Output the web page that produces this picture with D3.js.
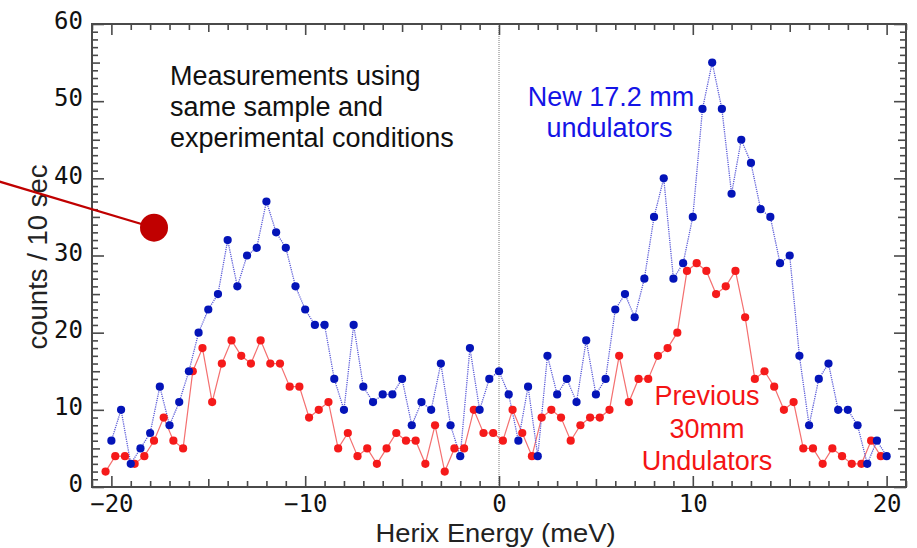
<!DOCTYPE html>
<html><head><meta charset="utf-8">
<script src="https://cdn.jsdelivr.net/npm/d3@7"></script>
<style>body{margin:0;background:#fff;overflow:hidden}</style>
</head><body>
<svg id="c" width="917" height="548"></svg>
<script>
// ---- data ----
const energyGrid = d3.range(-40, 41).map(i => i / 2);   // meV, 0.5 meV steps
const previousShift = -0.3;                               // previous-scan energy offset (meV)
const newUndulatorCounts = [
  6,10,3,5,7,13,8,11,15,20,23,25,32,26,30,31,37,33,31,26,
  23,21,21,14,10,21,13,11,12,12,14,8,11,10,16,8,4,18,10,14,
  15,12,6,13,4,17,12,14,11,19,12,14,23,25,22,27,35,40,27,29,
  35,49,55,49,38,45,42,36,35,29,30,17,8,14,16,10,10,8,3,6,4
];
const previousUndulatorCounts = [
  2,4,4,3,4,6,9,6,5,15,18,11,16,19,17,16,19,16,16,13,13,
  9,10,11,5,7,4,5,3,5,7,6,6,3,8,2,5,5,10,7,7,
  6,10,7,4,9,10,9,6,8,9,9,10,17,11,14,14,17,18,20,28,
  29,28,25,26,28,22,14,15,13,10,11,5,5,3,5,4,3,3,6,4
];
const xTickLabels = [-20, -10, 0, 10, 20];
const yTickLabels = [0, 10, 20, 30, 40, 50, 60];
const xDomain = [-21, 21];
const yDomain = [0, 60];
const noteLines = ["Measurements using", "same sample and", "experimental conditions"];
const newLabel = ["New 17.2 mm", "undulators"];
const prevLabel = ["Previous", "30mm", "Undulators"];
const markerPoint = [-17.8, 33.6];
const markerLineStart = [-25.8, 39.6];

// ---- layout ----
const svg = d3.select("#c");
const L = 92, R = 906, T = 24, B = 487;
const x = d3.scaleLinear().domain(xDomain).range([L, R]);
const y = d3.scaleLinear().domain(yDomain).range([B, T]);
const frameColor = "#4a4a4a";
const monoFont = "'DejaVu Sans Mono', monospace";
const sansFont = "'Liberation Sans', Arial, sans-serif";

const newData = energyGrid.map((e, i) => ({e, v: newUndulatorCounts[i]}));
const prevData = energyGrid.map((e, i) => ({e: e + previousShift, v: previousUndulatorCounts[i]}));

// zero line
svg.append("line").attr("x1", x(0)).attr("x2", x(0)).attr("y1", T).attr("y2", B)
  .attr("stroke", "#7a7a7a").attr("stroke-width", 1).attr("stroke-dasharray", "1,1");

// ticks (inward) on all sides
const xMinor = d3.range(-21, 22).filter(v => v % 5 !== 0);
const xMid = [-15, -5, 5, 15];
const yMinor = d3.range(0, 61).filter(v => v % 5 !== 0);
const yMid = [5, 15, 25, 35, 45, 55];
function styleAxis(g) {
  g.select(".domain").remove();
  g.selectAll(".tick line").attr("stroke", frameColor).attr("stroke-width", 1.6);
}
function tickSet(vals, len) {
  svg.append("g").attr("transform", `translate(0,${B})`)
    .call(d3.axisBottom(x).tickValues(vals).tickSize(-len).tickFormat("")).call(styleAxis);
  svg.append("g").attr("transform", `translate(0,${T})`)
    .call(d3.axisTop(x).tickValues(vals).tickSize(-len).tickFormat("")).call(styleAxis);
}
function tickSetY(vals, len) {
  svg.append("g").attr("transform", `translate(${L},0)`)
    .call(d3.axisLeft(y).tickValues(vals).tickSize(-len).tickFormat("")).call(styleAxis);
  svg.append("g").attr("transform", `translate(${R},0)`)
    .call(d3.axisRight(y).tickValues(vals).tickSize(-len).tickFormat("")).call(styleAxis);
}
tickSet(xMinor, 6); tickSet(xMid, 8); tickSet(xTickLabels, 11);
tickSetY(yMinor, 6); tickSetY(yMid, 8); tickSetY(yTickLabels, 12);

// tick labels
const xl = svg.append("g").attr("transform", `translate(0,${B})`)
  .call(d3.axisBottom(x).tickValues(xTickLabels).tickSize(0).tickPadding(8));
xl.select(".domain").remove();
xl.selectAll("text").attr("font-family", monoFont).attr("font-size", 24).attr("fill", "#111");
const yl = svg.append("g").attr("transform", `translate(${L},0)`)
  .call(d3.axisLeft(y).tickValues(yTickLabels).tickSize(0).tickPadding(9));
yl.select(".domain").remove();
yl.selectAll("text").attr("font-family", monoFont).attr("font-size", 24).attr("fill", "#111")
  .attr("dy", "0.2em");

// frame
svg.append("rect").attr("x", L).attr("y", T).attr("width", R - L).attr("height", B - T)
  .attr("fill", "none").attr("stroke", frameColor).attr("stroke-width", 2);

// series lines
const line = d3.line().x(d => x(d.e)).y(d => y(d.v));
svg.append("path").datum(prevData).attr("d", line).attr("fill", "none")
  .attr("stroke", "#f47070").attr("stroke-width", 1.2);
svg.append("path").datum(newData).attr("d", line).attr("fill", "none")
  .attr("stroke", "#5a5ad8").attr("stroke-width", 1.3).attr("stroke-dasharray", "1.2,1");

// points
svg.append("g").selectAll("circle").data(prevData).join("circle")
  .attr("cx", d => x(d.e)).attr("cy", d => y(d.v)).attr("r", 4.1).attr("fill", "#f51a1a");
svg.append("g").selectAll("circle").data(newData).join("circle")
  .attr("cx", d => x(d.e)).attr("cy", d => y(d.v)).attr("r", 4.1).attr("fill", "#0414b8");

// axis titles
svg.append("text").attr("x", 495.5).attr("y", 542).attr("text-anchor", "middle")
  .attr("font-family", sansFont).attr("font-size", 26).attr("fill", "#222")
  .attr("textLength", 240).attr("lengthAdjust", "spacingAndGlyphs")
  .text("Herix Energy  (meV)");
svg.append("text").attr("transform", `translate(47,257) rotate(-90)`).attr("text-anchor", "middle")
  .attr("font-family", sansFont).attr("font-size", 27.5).attr("fill", "#222")
  .text("counts / 10 sec");

// annotations
svg.append("g").selectAll("text").data(noteLines).join("text")
  .attr("x", 170).attr("y", (d, i) => 85 + i * 31)
  .attr("font-family", sansFont).attr("font-size", 27).attr("fill", "#111").text(d => d);
svg.append("g").selectAll("text").data(newLabel).join("text")
  .attr("x", (d, i) => i === 0 ? 611 : 609.5).attr("y", (d, i) => 106 + i * 31).attr("text-anchor", "middle")
  .attr("font-family", sansFont).attr("font-size", 27).attr("fill", "#1414e6").text(d => d);
svg.append("g").selectAll("text").data(prevLabel).join("text")
  .attr("x", 707).attr("y", (d, i) => 405 + i * 32.5).attr("text-anchor", "middle")
  .attr("font-family", sansFont).attr("font-size", 27).attr("fill", "#f41414").text(d => d);

// pointer marker
svg.append("line").attr("x1", x(markerLineStart[0])).attr("y1", y(markerLineStart[1]))
  .attr("x2", x(markerPoint[0])).attr("y2", y(markerPoint[1]))
  .attr("stroke", "#c00000").attr("stroke-width", 2.2);
svg.append("circle").attr("cx", x(markerPoint[0])).attr("cy", y(markerPoint[1]))
  .attr("r", 14).attr("fill", "#c00000");
</script>
</body></html>
